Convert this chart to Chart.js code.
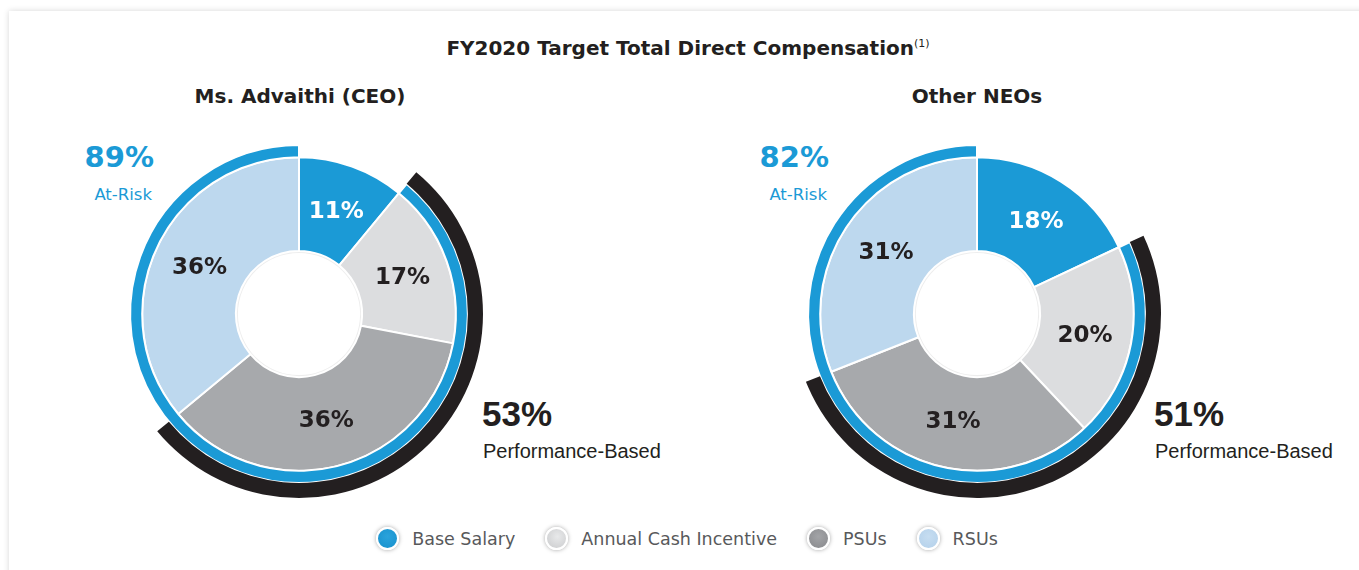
<!DOCTYPE html>
<html lang="en">
<head>
<meta charset="utf-8">
<title>FY2020 Target Total Direct Compensation</title>
<script src="https://cdn.jsdelivr.net/npm/chart.js"></script>
<style>
  html, body { margin: 0; padding: 0; background: #fff; width: 1359px; height: 570px; overflow: hidden; }
  .panel { position: absolute; left: 9px; top: 11px; width: 1420px; height: 620px; background: #fff;
           box-shadow: 0 0 6px rgba(0,0,0,0.16); }
  .txt { position: absolute; line-height: 1; white-space: nowrap; }
  .title { font: bold 20px "DejaVu Sans"; color: #231f20; text-align: center; }
  .title sup { font-size: 11px; font-weight: normal; vertical-align: 0; position: relative; top: -8px; }
  .sub { font: bold 20px "DejaVu Sans"; color: #231f20; text-align: center; }
  .risk { font: bold 29px "DejaVu Sans"; color: #1b9ad6; text-align: right; }
  .riskLbl { font: 16.5px "DejaVu Sans"; color: #1b9ad6; text-align: right; }
  .perf { font: bold 35px "Liberation Sans"; color: #231f20; }
  .perfLbl { font: 20px "Liberation Sans"; color: #231f20; }
  canvas { position: absolute; }
  #legend { position: absolute; left: 0; width: 1374px; top: 527px; display: flex; justify-content: center; align-items: center; }
  .item { display: flex; align-items: center; margin: 0 15px; }
  .mark { width: 19px; height: 19px; border-radius: 50%; border: 2px solid #fff; box-shadow: 0 0 4px rgba(0,0,0,0.35); margin-right: 13px; }
  .item span { font: 17.5px "DejaVu Sans"; color: #58595b; }
</style>
</head>
<body>
<div class="panel"></div>

<div class="txt title" style="left:0; width:1376px; top:36px;">FY2020 Target Total Direct Compensation<sup>(1)</sup></div>
<div class="txt sub" style="left:100px; width:400px; top:84px;">Ms. Advaithi (CEO)</div>
<div class="txt sub" style="left:777px; width:400px; top:84px;">Other NEOs</div>

<div class="txt risk" id="ceoRisk" style="left:0; width:154px; top:140px;"></div>
<div class="txt riskLbl" style="left:0; width:152px; top:185px;">At-Risk</div>
<div class="txt risk" id="neoRisk" style="left:600px; width:229px; top:140px;"></div>
<div class="txt riskLbl" style="left:600px; width:227px; top:185px;">At-Risk</div>

<div class="txt perf" id="ceoPerf" style="left:482px; top:394px;"></div>
<div class="txt perfLbl" style="left:483px; top:440px;">Performance-Based</div>
<div class="txt perf" id="neoPerf" style="left:1154px; top:394px;"></div>
<div class="txt perfLbl" style="left:1155px; top:440px;">Performance-Based</div>

<canvas id="ceoChart" width="400" height="400" style="left:99px; top:114px;"></canvas>
<canvas id="neoChart" width="400" height="400" style="left:777px; top:114px;"></canvas>

<div id="legend"></div>

<script>
// pay mix, % of target total direct compensation
const categories = ['Base Salary', 'Annual Cash Incentive', 'PSUs', 'RSUs'];
const ceoValues = [11, 17, 36, 36];
const neoValues = [18, 20, 31, 31];
const ceoAtRisk = 89;
const neoAtRisk = 82;
const ceoPerfBased = 53;
const neoPerfBased = 51;

const sliceColors = ['#1b9ad6', '#dcdddf', '#a7a9ac', '#bdd8ee'];
const legendFills = [
  'radial-gradient(circle at 50% 40%, #2aa3dc, #1790cc)',
  'radial-gradient(circle at 55% 40%, #e8e9ea, #c9cacc)',
  'radial-gradient(circle at 50% 40%, #a3a4a7, #88898c)',
  'radial-gradient(circle at 50% 40%, #c6ddf1, #b3d0ea)'
];
const ringBlue = '#1b9ad6';
const ringBlack = '#231f20';
const none = 'rgba(0,0,0,0)';

document.getElementById('ceoRisk').textContent = ceoAtRisk + '%';
document.getElementById('neoRisk').textContent = neoAtRisk + '%';
document.getElementById('ceoPerf').textContent = ceoPerfBased + '%';
document.getElementById('neoPerf').textContent = neoPerfBased + '%';

// percentage labels in the middle of each slice
const sliceLabels = {
  id: 'sliceLabels',
  afterDatasetsDraw(chart) {
    const ctx = chart.ctx;
    const meta = chart.getDatasetMeta(2);
    const vals = chart.data.datasets[2].data;
    ctx.save();
    ctx.font = 'bold 23px "DejaVu Sans"';
    ctx.textAlign = 'center';
    ctx.textBaseline = 'middle';
    meta.data.forEach((arc, i) => {
      const p = arc.tooltipPosition();
      ctx.fillStyle = i === 0 ? '#ffffff' : '#231f20';
      ctx.fillText(vals[i] + '%', p.x, p.y + 1);
    });
    ctx.restore();
  }
};

function makeChart(id, values, atRisk, perfBased) {
  const ctx = document.getElementById(id).getContext('2d');
  return new Chart(ctx, {
    type: 'doughnut',
    data: {
      labels: categories,
      datasets: [
        { // performance-based arc (outer, black)
          data: [values[0], perfBased, 100 - values[0] - perfBased],
          backgroundColor: [none, ringBlack, none],
          borderWidth: 0,
          weight: 15
        },
        { // at-risk arc (blue)
          data: [100 - atRisk, atRisk],
          backgroundColor: [none, ringBlue],
          borderColor: '#ffffff',
          borderWidth: [0, 2],
          weight: 12
        },
        {
          data: values,
          backgroundColor: sliceColors,
          borderColor: '#ffffff',
          borderWidth: 2,
          weight: 93
        },
        { // soft rim round the hole
          data: [100],
          backgroundColor: 'rgba(0,0,0,0.07)',
          borderWidth: 0,
          weight: 2
        }
      ]
    },
    options: {
      responsive: false,
      animation: false,
      devicePixelRatio: 1,
      events: [],
      radius: 184,
      cutout: '33.2%',
      layout: { padding: 0 },
      plugins: { legend: { display: false }, tooltip: { enabled: false } }
    },
    plugins: [sliceLabels]
  });
}

makeChart('ceoChart', ceoValues, ceoAtRisk, ceoPerfBased);
makeChart('neoChart', neoValues, neoAtRisk, neoPerfBased);

// shared legend
const legend = document.getElementById('legend');
categories.forEach((c, i) => {
  const item = document.createElement('div');
  item.className = 'item';
  const m = document.createElement('div');
  m.className = 'mark';
  m.style.background = legendFills[i];
  const s = document.createElement('span');
  s.textContent = c;
  item.appendChild(m);
  item.appendChild(s);
  legend.appendChild(item);
});
</script>
</body>
</html>
